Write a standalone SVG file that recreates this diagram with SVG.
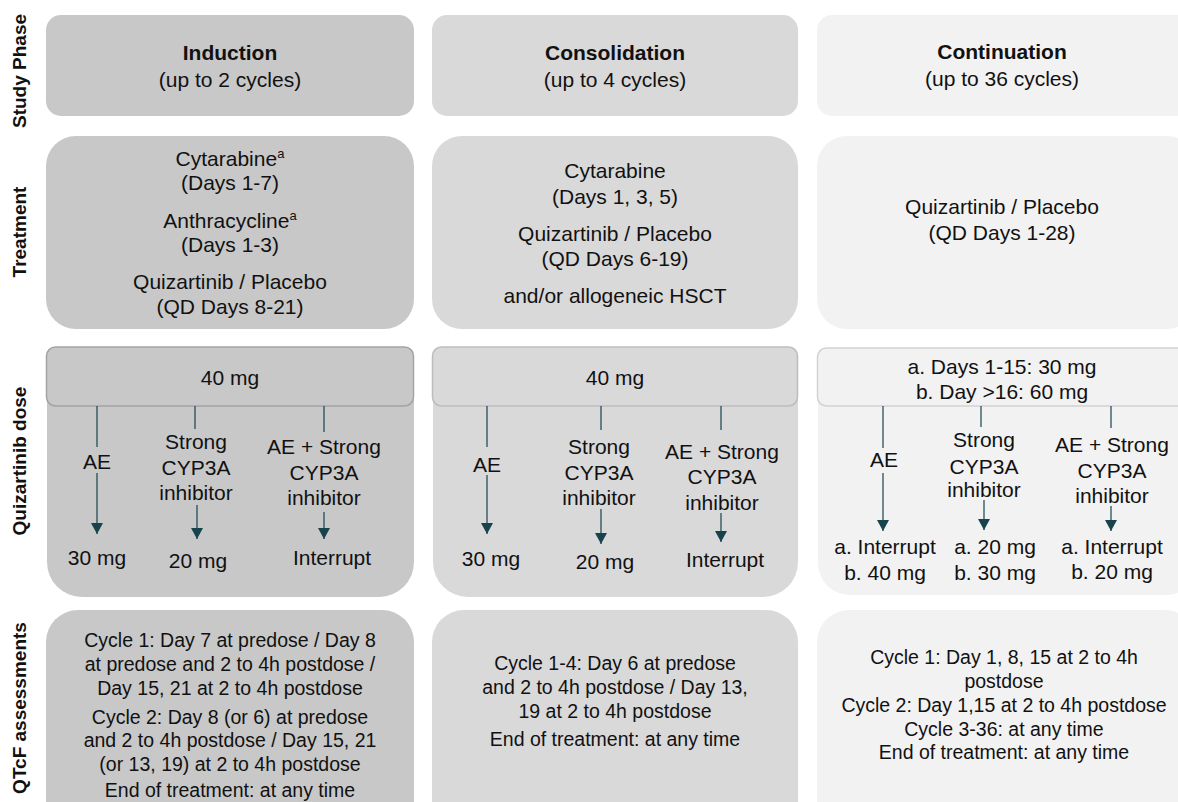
<svg xmlns="http://www.w3.org/2000/svg" width="1178" height="802" viewBox="0 0 1178 802">
<style>
text{font-family:"Liberation Sans",Arial,sans-serif;fill:#111;text-anchor:middle}
.t{font-size:21px}
.q{font-size:19.5px}
.b{font-weight:bold}
.lab{font-size:19px;font-weight:bold}
.c1{fill:#c8c8c8}
.c2{fill:#d9d9d9}
.c3{fill:#f2f2f2}
.i1{fill:#c8c8c8;stroke:#a3a3a3;stroke-width:1.5}
.i2{fill:#d9d9d9;stroke:#bdbdbd;stroke-width:1.5}
.i3{fill:#f2f2f2;stroke:#d2d2d2;stroke-width:1.5}
.ln{stroke:#17434c;stroke-width:1.2;fill:none}
.ar{stroke:#17434c;stroke-width:1.2;fill:none;marker-end:url(#ah)}
</style>
<defs>
<marker id="ah" viewBox="0 0 11 12" refX="11" refY="6" markerWidth="11" markerHeight="12" orient="auto" markerUnits="userSpaceOnUse">
<path d="M0,0 L11,6 L0,12 Z" fill="#17434c"/>
</marker>
</defs>

<g id="row-labels">
<text class="lab" transform="translate(26,71) rotate(-90)">Study Phase</text>
<text class="lab" transform="translate(26,232) rotate(-90)">Treatment</text>
<text class="lab" transform="translate(26,461) rotate(-90)">Quizartinib dose</text>
<text class="lab" transform="translate(26,708) rotate(-90)">QTcF assessments</text>
</g>

<g id="phase-induction">
<rect class="c1" x="46" y="15" width="368" height="101" rx="15"/>
<text class="t b" x="230" y="60">Induction</text>
<text class="t" x="230" y="87">(up to 2 cycles)</text>
</g>
<g id="phase-consolidation">
<rect class="c2" x="432" y="15" width="366" height="101" rx="15"/>
<text class="t b" x="615" y="60">Consolidation</text>
<text class="t" x="615" y="87">(up to 4 cycles)</text>
</g>
<g id="phase-continuation">
<rect class="c3" x="817" y="15" width="380" height="101" rx="15"/>
<text class="t b" x="1002" y="59">Continuation</text>
<text class="t" x="1002" y="86">(up to 36 cycles)</text>
</g>

<g id="treatment-induction">
<rect class="c1" x="46" y="136" width="368" height="193" rx="30"/>
<text class="t" x="230" y="166">Cytarabine<tspan font-size="13" dy="-8">a</tspan></text>
<text class="t" x="230" y="190">(Days 1-7)</text>
<text class="t" x="230" y="228">Anthracycline<tspan font-size="13" dy="-8">a</tspan></text>
<text class="t" x="230" y="252">(Days 1-3)</text>
<text class="t" x="230" y="289">Quizartinib / Placebo</text>
<text class="t" x="230" y="314">(QD Days 8-21)</text>
</g>
<g id="treatment-consolidation">
<rect class="c2" x="432" y="136" width="366" height="193" rx="30"/>
<text class="t" x="615" y="178">Cytarabine</text>
<text class="t" x="615" y="204">(Days 1, 3, 5)</text>
<text class="t" x="615" y="241">Quizartinib / Placebo</text>
<text class="t" x="615" y="266">(QD Days 6-19)</text>
<text class="t" x="615" y="303">and/or allogeneic HSCT</text>
</g>
<g id="treatment-continuation">
<rect class="c3" x="817" y="136" width="380" height="193" rx="30"/>
<text class="t" x="1002" y="214">Quizartinib / Placebo</text>
<text class="t" x="1002" y="240">(QD Days 1-28)</text>
</g>

<g id="dose-induction">
<rect class="c1" x="47" y="350" width="367" height="247" rx="35"/>
<rect class="i1" x="46.5" y="347" width="367" height="59" rx="9"/>
<text class="t" x="230" y="385">40 mg</text>
<text class="t" x="97" y="469">AE</text>
<text class="t" x="97" y="565">30 mg</text>
<text class="t" x="196" y="449">Strong</text>
<text class="t" x="196" y="475">CYP3A</text>
<text class="t" x="196" y="500">inhibitor</text>
<text class="t" x="198" y="568">20 mg</text>
<text class="t" x="324" y="454">AE + Strong</text>
<text class="t" x="324" y="480">CYP3A</text>
<text class="t" x="324" y="505">inhibitor</text>
<text class="t" x="332" y="565">Interrupt</text>
</g>
<g id="dose-consolidation">
<rect class="c2" x="433" y="350" width="365" height="247" rx="35"/>
<rect class="i2" x="432.5" y="347" width="365" height="59" rx="9"/>
<text class="t" x="615" y="385">40 mg</text>
<text class="t" x="487" y="472">AE</text>
<text class="t" x="491" y="566">30 mg</text>
<text class="t" x="599" y="454">Strong</text>
<text class="t" x="599" y="480">CYP3A</text>
<text class="t" x="599" y="505">inhibitor</text>
<text class="t" x="605" y="569">20 mg</text>
<text class="t" x="722" y="459">AE + Strong</text>
<text class="t" x="722" y="484">CYP3A</text>
<text class="t" x="722" y="510">inhibitor</text>
<text class="t" x="725" y="567">Interrupt</text>
</g>
<g id="dose-continuation">
<rect class="c3" x="818" y="350" width="380" height="245" rx="32"/>
<rect class="i3" x="817.5" y="348" width="380" height="58" rx="9"/>
<text class="t" x="1002" y="374">a. Days 1-15: 30 mg</text>
<text class="t" x="1002" y="399">b. Day &gt;16: 60 mg</text>
<text class="t" x="884" y="467">AE</text>
<text class="t" x="885" y="554">a. Interrupt</text>
<text class="t" x="885" y="580">b. 40 mg</text>
<text class="t" x="984" y="447">Strong</text>
<text class="t" x="984" y="474">CYP3A</text>
<text class="t" x="984" y="497">inhibitor</text>
<text class="t" x="995" y="554">a. 20 mg</text>
<text class="t" x="995" y="580">b. 30 mg</text>
<text class="t" x="1112" y="452">AE + Strong</text>
<text class="t" x="1112" y="478">CYP3A</text>
<text class="t" x="1112" y="503">inhibitor</text>
<text class="t" x="1112" y="554">a. Interrupt</text>
<text class="t" x="1112" y="579">b. 20 mg</text>
</g>

<g id="qtcf-induction">
<rect class="c1" x="46" y="610" width="368" height="230" rx="32"/>
<text class="q" x="230" y="647">Cycle 1: Day 7 at predose / Day 8</text>
<text class="q" x="230" y="671">at predose and 2 to 4h postdose /</text>
<text class="q" x="230" y="695">Day 15, 21 at 2 to 4h postdose</text>
<text class="q" x="230" y="724">Cycle 2: Day 8 (or 6) at predose</text>
<text class="q" x="230" y="747">and 2 to 4h postdose / Day 15, 21</text>
<text class="q" x="230" y="771">(or 13, 19) at 2 to 4h postdose</text>
<text class="q" x="230" y="797">End of treatment: at any time</text>
</g>
<g id="qtcf-consolidation">
<rect class="c2" x="432" y="610" width="366" height="230" rx="32"/>
<text class="q" x="615" y="670">Cycle 1-4: Day 6 at predose</text>
<text class="q" x="615" y="694">and 2 to 4h postdose / Day 13,</text>
<text class="q" x="615" y="718">19 at 2 to 4h postdose</text>
<text class="q" x="615" y="746">End of treatment: at any time</text>
</g>
<g id="qtcf-continuation">
<rect class="c3" x="817" y="610" width="380" height="230" rx="32"/>
<text class="q" x="1004" y="664">Cycle 1: Day 1, 8, 15 at 2 to 4h</text>
<text class="q" x="1004" y="688">postdose</text>
<text class="q" x="1004" y="712">Cycle 2: Day 1,15 at 2 to 4h postdose</text>
<text class="q" x="1004" y="736">Cycle 3-36: at any time</text>
<text class="q" x="1004" y="759">End of treatment: at any time</text>
</g>

<g id="connectors">
<line class="ln" x1="97" y1="406" x2="97" y2="447"/>
<line class="ar" x1="97" y1="473" x2="97" y2="534"/>
<line class="ln" x1="195" y1="406" x2="195" y2="429"/>
<line class="ar" x1="197" y1="505" x2="197" y2="539"/>
<line class="ln" x1="324" y1="406" x2="324" y2="432"/>
<line class="ar" x1="324" y1="512" x2="324" y2="539"/>

<line class="ln" x1="487" y1="406" x2="487" y2="447"/>
<line class="ar" x1="487" y1="475" x2="487" y2="534"/>
<line class="ln" x1="601" y1="406" x2="601" y2="430"/>
<line class="ar" x1="601" y1="509" x2="601" y2="544"/>
<line class="ln" x1="721" y1="406" x2="721" y2="430"/>
<line class="ar" x1="721" y1="513" x2="721" y2="542"/>

<line class="ln" x1="883" y1="406" x2="883" y2="448"/>
<line class="ar" x1="883" y1="473" x2="883" y2="531"/>
<line class="ln" x1="981" y1="406" x2="981" y2="427"/>
<line class="ar" x1="984" y1="500" x2="984" y2="530"/>
<line class="ln" x1="1111" y1="406" x2="1111" y2="428"/>
<line class="ar" x1="1111" y1="506" x2="1111" y2="531"/>
</g>
</svg>
